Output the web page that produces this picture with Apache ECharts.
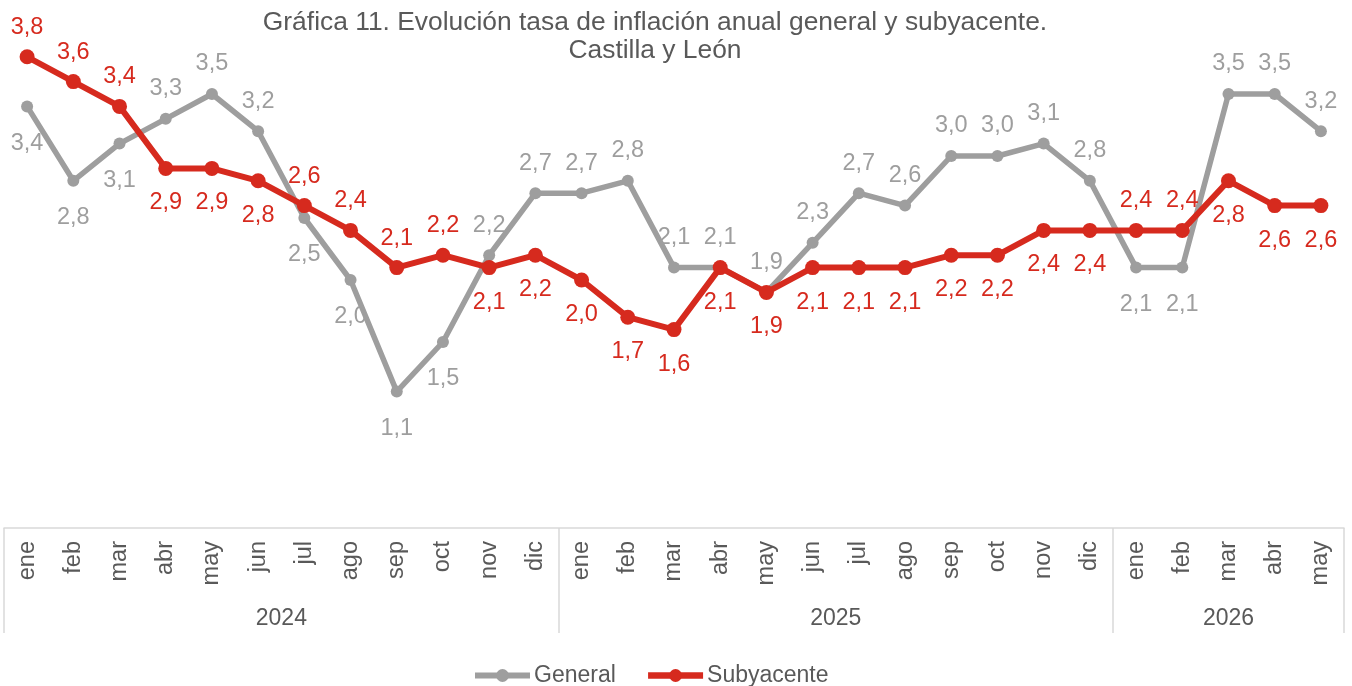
<!DOCTYPE html>
<html>
<head>
<meta charset="utf-8">
<script src="https://cdn.jsdelivr.net/npm/echarts@6/dist/echarts.min.js"></script>
<style>
html,body{margin:0;padding:0;background:#fff;}
#chart{width:1352px;height:686px;}
</style>
</head>
<body>
<div id="chart"></div>
<script>
// datos
var months = ['ene','feb','mar','abr','may','jun','jul','ago','sep','oct','nov','dic',
	'ene','feb','mar','abr','may','jun','jul','ago','sep','oct','nov','dic',
	'ene','feb','mar','abr','may'];
var years = ['2024','2025','2026'];
var monthsPerYear = [12,12,5];
var general = [3.4,2.8,3.1,3.3,3.5,3.2,2.5,2.0,1.1,1.5,2.2,2.7,
	2.7,2.8,2.1,2.1,1.9,2.3,2.7,2.6,3.0,3.0,3.1,2.8,
	2.1,2.1,3.5,3.5,3.2];
var subyacente = [3.8,3.6,3.4,2.9,2.9,2.8,2.6,2.4,2.1,2.2,2.1,2.2,
	2.0,1.7,1.6,2.1,1.9,2.1,2.1,2.1,2.2,2.2,2.4,2.4,
	2.4,2.4,2.8,2.6,2.6];
// puntos donde la etiqueta de General va debajo (Subyacente al revés)
var generalBelow = [0,1,2,6,7,8,9,24,25];

var FONT = "'Liberation Sans', Arial, sans-serif";
var TXT = '#595959';
var GRAY = '#9E9E9E';
var RED = '#D62A1E';

// eje de años: una categoría por mes, etiqueta en el centro de cada año
var yearData = [];
var yearLabelIdx = {};
var yearBounds = {};
var pos = 0;
for(var i=0;i<years.length;i++){
	yearBounds[pos] = true;
	for(var k=0;k<monthsPerYear[i];k++){
		yearData.push(years[i]);
	}
	yearLabelIdx[pos + Math.floor(monthsPerYear[i]/2)] = (monthsPerYear[i] % 2 === 0) ? 'e' : 'o';
	pos += monthsPerYear[i];
}

function fmt(p){
	return p.value.toFixed(1).replace('.', ',');
}
function buildData(values, isGeneral, dTop, dBottom){
	var out = [];
	for(var i=0;i<values.length;i++){
		var below = generalBelow.indexOf(i) >= 0;
		if(!isGeneral) below = !below;
		out.push({
			value: values[i],
			label: {position: below ? 'bottom' : 'top', distance: below ? dBottom : dTop}
		});
	}
	return out;
}

var myChart = echarts.init(document.getElementById('chart'));
var option = {
	animation: false,
	textStyle: {fontFamily: FONT},
	title: {
		text: 'Gráfica 11. Evolución tasa de inflación anual general y subyacente.\nCastilla y León',
		left: 650,
		top: 4,
		textAlign: 'center',
		textStyle: {
			color: TXT,
			fontSize: 26.4,
			fontWeight: 'normal',
			fontFamily: FONT,
			lineHeight: 28
		}
	},
	legend: {
		left: 467,
		top: 659,
		itemWidth: 55,
		itemHeight: 16,
		itemGap: 29,
		textStyle: {color: TXT, fontSize: 23, fontFamily: FONT, padding: [0,0,0,-1]},
		data: [
			{name: 'General', lineStyle: {width: 6}},
			{name: 'Subyacente', lineStyle: {width: 6.5}}
		]
	},
	grid: {
		left: 4,
		right: 8,
		top: 32,
		bottom: 158,
		outerBoundsMode: 'none'
	},
	xAxis: [
		{
			type: 'category',
			data: months,
			position: 'bottom',
			axisLine: {show: true, lineStyle: {color: '#D9D9D9', width: 1.5}},
			axisTick: {show: false},
			axisLabel: {
				interval: 0,
				rotate: 90,
				margin: 13,
				color: TXT,
				fontSize: 23.5,
				fontFamily: FONT
			}
		},
		{
			type: 'category',
			data: yearData,
			position: 'bottom',
			axisLine: {show: false},
			axisTick: {
				show: true,
				length: 105,
				interval: function(idx){ return yearBounds[idx] === true; },
				lineStyle: {color: '#D9D9D9', width: 1.5}
			},
			axisLabel: {
				margin: 79,
				color: TXT,
				fontSize: 23,
				fontFamily: FONT,
				interval: function(idx){ return yearLabelIdx[idx] !== undefined; },
				formatter: function(val, idx){
					return '{' + yearLabelIdx[idx] + '|' + val + '}';
				},
				rich: {
					e: {color: TXT, fontSize: 23, fontFamily: FONT, padding: [0, 46, 0, 0]},
					o: {color: TXT, fontSize: 23, fontFamily: FONT}
				}
			}
		}
	],
	yAxis: {
		type: 'value',
		show: false,
		min: 0,
		max: 4
	},
	series: [
		{
			name: 'General',
			type: 'line',
			data: buildData(general, true, 12, 19),
			symbol: 'circle',
			symbolSize: 12,
			showAllSymbol: true,
			lineStyle: {color: GRAY, width: 5.5},
			itemStyle: {color: GRAY},
			label: {
				show: true,
				color: GRAY,
				fontSize: 23.5,
				fontFamily: FONT,
				formatter: fmt
			}
		},
		{
			name: 'Subyacente',
			type: 'line',
			data: buildData(subyacente, false, 10, 15),
			symbol: 'circle',
			symbolSize: 15,
			showAllSymbol: true,
			lineStyle: {color: RED, width: 6},
			itemStyle: {color: RED},
			label: {
				show: true,
				color: RED,
				fontSize: 23.5,
				fontFamily: FONT,
				formatter: fmt
			}
		}
	]
};
myChart.setOption(option);
</script>
</body>
</html>
